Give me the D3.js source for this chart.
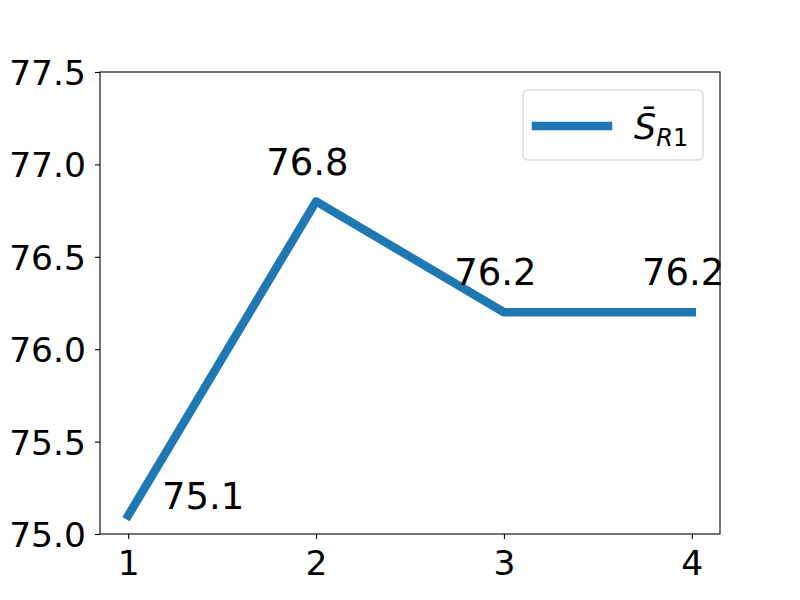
<!DOCTYPE html>
<html>
<head>
<meta charset="utf-8">
<script src="https://cdn.jsdelivr.net/npm/d3@7"></script>
<style>
  body { margin: 0; background: #fff; }
  svg { font-family: "DejaVu Sans", sans-serif; }
</style>
</head>
<body>
<svg id="chart" width="800" height="600"></svg>
<script>
// chart values
var xValues = [1, 2, 3, 4];
var sR1 = [75.1, 76.8, 76.2, 76.2];
var yTicks = [75.0, 75.5, 76.0, 76.5, 77.0, 77.5];
var xTicks = [1, 2, 3, 4];

var W = 800, H = 600;
var margin = {left: 100, right: 80, top: 72, bottom: 66};
var plotW = W - margin.left - margin.right,
    plotH = H - margin.top - margin.bottom;
var BLUE = '#1f77b4';

var svg = d3.select('#chart');
var g = svg.append('g').attr('transform', 'translate(' + margin.left + ',' + margin.top + ')');

/* matplotlib style 5% margins on x, fixed y limits */
var x = d3.scaleLinear().domain([0.85, 4.15]).range([0, plotW]);
var y = d3.scaleLinear().domain([75.0, 77.5]).range([plotH, 0]);

// axes
var xAxis = d3.axisBottom(x).tickValues(xTicks).tickFormat(d3.format('d'))
    .tickSizeInner(5).tickSizeOuter(0).tickPadding(4);
var yAxis = d3.axisLeft(y).tickValues(yTicks).tickFormat(d3.format('.1f'))
    .tickSizeInner(5).tickSizeOuter(0).tickPadding(9);

var gx = g.append('g').attr('transform', 'translate(0,' + plotH + ')').call(xAxis);
var gy = g.append('g').call(yAxis);
[gx, gy].forEach(function(ax) {
    ax.select('.domain').remove();
    ax.selectAll('.tick line').attr('stroke', '#000').attr('stroke-width', 1.1);
    ax.selectAll('.tick text').attr('fill', '#000').style('font-size', '34.5px')
        .style('font-family', '"DejaVu Sans", sans-serif');
});
gx.selectAll('.tick text').attr('dy', '0.92em');
gy.selectAll('.tick text').attr('dy', '0.36em');

// the line
var line = d3.line()
    .x(function(d, i) { return x(xValues[i]); })
    .y(function(d) { return y(d); });

g.append('path')
    .datum(sR1)
    .attr('d', line)
    .attr('fill', 'none')
    .attr('stroke', BLUE)
    .attr('stroke-width', 8.5)
    .attr('stroke-linejoin', 'round')
    .attr('stroke-linecap', 'square');

// frame
g.append('rect')
    .attr('width', plotW).attr('height', plotH)
    .attr('fill', 'none').attr('stroke', '#000').attr('stroke-width', 1.1);

// value labels
g.selectAll('.vlabel')
    .data(sR1)
    .enter().append('text')
    .attr('class', 'vlabel')
    .attr('x', function(d, i) { return x(xValues[i] + (i === 0 ? 0.18 : -0.265)); })
    .attr('y', function(d, i) { return y(d + (i === 0 ? 0.034 : 0.145)); })
    .style('font-size', '37px')
    .attr('fill', '#000')
    .text(function(d) { return d3.format('.1f')(d); });

// legend
var lg = svg.append('g').attr('transform', 'translate(523,90)');
lg.append('rect')
    .attr('width', 180).attr('height', 70).attr('rx', 5)
    .attr('fill', '#fff').attr('fill-opacity', 0.8)
    .attr('stroke', '#cccccc').attr('stroke-width', 1.1);
lg.append('line')
    .attr('x1', 13).attr('x2', 85).attr('y1', 36).attr('y2', 36)
    .attr('stroke', BLUE).attr('stroke-width', 8.5).attr('stroke-linecap', 'square');
var lt = lg.append('text').attr('x', 111).attr('y', 49).attr('fill', '#000')
    .style('font-size', '35px');
lt.append('tspan').style('font-style', 'italic').text('S\u0304');
lt.append('tspan').attr('dy', 7).style('font-size', '24px').style('font-style', 'italic').text('R');
lt.append('tspan').style('font-size', '24px').text('1');
</script>
</body>
</html>
